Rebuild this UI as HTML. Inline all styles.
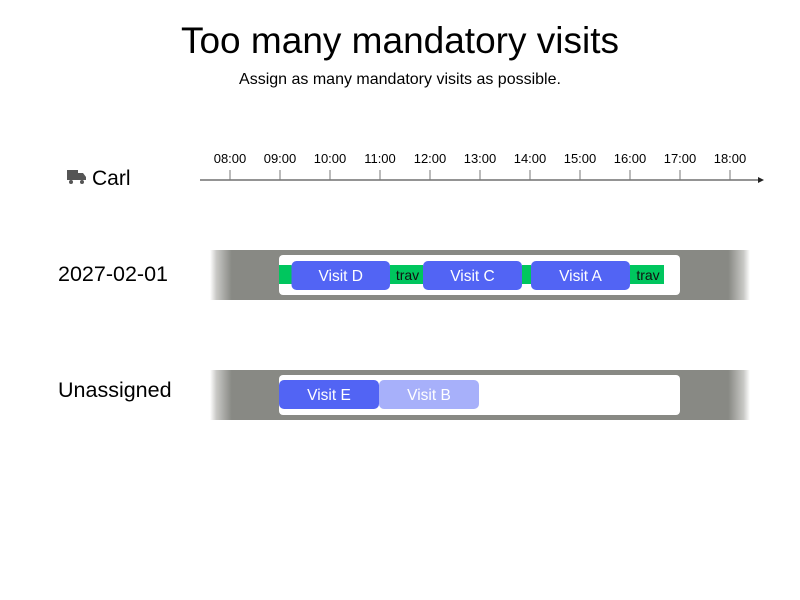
<!DOCTYPE html>
<html><head><meta charset="utf-8"><style>
body{margin:0;background:#fff;font-family:"Liberation Sans",sans-serif;}
</style></head><body>
<svg width="800" height="600" viewBox="0 0 800 600" id="chart" style="display:block">
<defs>
<linearGradient id="band" x1="0" x2="1" y1="0" y2="0">
<stop offset="0" stop-color="#fff"/><stop offset="0.012" stop-color="#c8c8c5"/><stop offset="0.04" stop-color="#888984"/><stop offset="0.96" stop-color="#888984"/><stop offset="0.988" stop-color="#c8c8c5"/><stop offset="1" stop-color="#fff"/>
</linearGradient>
</defs>
<text x="400" y="53" text-anchor="middle" font-size="37">Too many mandatory visits</text>
<text x="400" y="84" text-anchor="middle" font-size="16">Assign as many mandatory visits as possible.</text>
<g>
<rect x="67" y="170" width="11" height="10" fill="#555"/>
<path d="M78 173 h5 l3 4 v3 h-8 z" fill="#555"/>
<circle cx="71" cy="182" r="2" fill="#555"/><circle cx="82" cy="182" r="2" fill="#555"/>
<text x="92" y="185" font-size="21">Carl</text>
</g>
<g id="axis"></g>
<text x="58" y="281" font-size="21.5">2027-02-01</text>
<text x="58" y="397" font-size="21.5">Unassigned</text>
<rect x="210" y="250" width="540" height="50" fill="url(#band)"/>
<rect x="210" y="370" width="540" height="50" fill="url(#band)"/>
<g id="marks"></g>
</svg>
<script>
const hourTicks = ["08:00","09:00","10:00","11:00","12:00","13:00","14:00","15:00","16:00","17:00","18:00"];
const tickHours = [8,9,10,11,12,13,14,15,16,17,18];
const windowStart = [9, 9];
const windowEnd = [18, 18];
const travelStarts = [9.0, 11.22, 13.86, 16.02];
const travelEnds = [9.25, 11.88, 14.04, 16.7];
const travelLabels = ["", "trav", "", "trav"];
const visitNames = ["Visit D","Visit C","Visit A","Visit E","Visit B"];
const visitStarts = [9.25, 11.88, 14.04, 9.0, 11.0];
const visitEnds = [11.22, 13.86, 16.02, 11.0, 13.0];
const visitRows = [0,0,0,1,1];
const visitFaded = [false,false,false,false,true];

const NS="http://www.w3.org/2000/svg";
const x = h => 230 + (h-8)*50;
const rowY = [250, 370];
function mk(tag, attrs, parent){const e=document.createElementNS(NS,tag);for(const k in attrs)e.setAttribute(k,attrs[k]);parent.appendChild(e);return e;}
const axis=document.getElementById('axis');
const l=mk('line',{x1:200,y1:180,x2:760,y2:180,stroke:'#555','stroke-width':1.2},axis);


mk('path',{d:'M758 177 L764 180 L758 183 Z',fill:'#222'},axis);
tickHours.forEach((h,i)=>{
  const t=mk('line',{x1:x(h),y1:170,x2:x(h),y2:180,stroke:'#777'},axis);
  
  
  const tx=mk('text',{x:x(h),y:163,'text-anchor':'middle','font-size':13},axis);
  tx.textContent=hourTicks[i];
  
  
});
const marks=document.getElementById('marks');
windowStart.forEach((s,r)=>{
  const w=mk('rect',{x:x(s)-1,y:rowY[r]+5,width:x(windowEnd[r])-x(s)-50+1,height:40,rx:4,fill:'#fff'},marks);
  
  
});
travelStarts.forEach((s,i)=>{
  const g=mk('rect',{x:x(s)-1,y:rowY[0]+15,width:x(travelEnds[i])-x(s),height:19,fill:'#00c65e'},marks);
  
  
  if(travelLabels[i]){const t=mk('text',{x:(x(s)+x(travelEnds[i]))/2,y:rowY[0]+30,'text-anchor':'middle','font-size':14,fill:'#111'},marks);t.textContent=travelLabels[i];}
});
visitNames.forEach((n,i)=>{
  const y0=rowY[visitRows[i]]+(visitRows[i]?10:11);
  const g=mk('g',{},marks);
  
  
  mk('rect',{x:x(visitStarts[i])-1,y:y0,width:x(visitEnds[i])-x(visitStarts[i]),height:29,rx:5,fill:visitFaded[i]?'#a7b0fa':'#5264f4'},g);
  const t=mk('text',{x:(x(visitStarts[i])+x(visitEnds[i]))/2-1,y:y0+20,'text-anchor':'middle','font-size':15.5,fill:'#fff'},g);
  t.textContent=n;
});
</script>
</body></html>
